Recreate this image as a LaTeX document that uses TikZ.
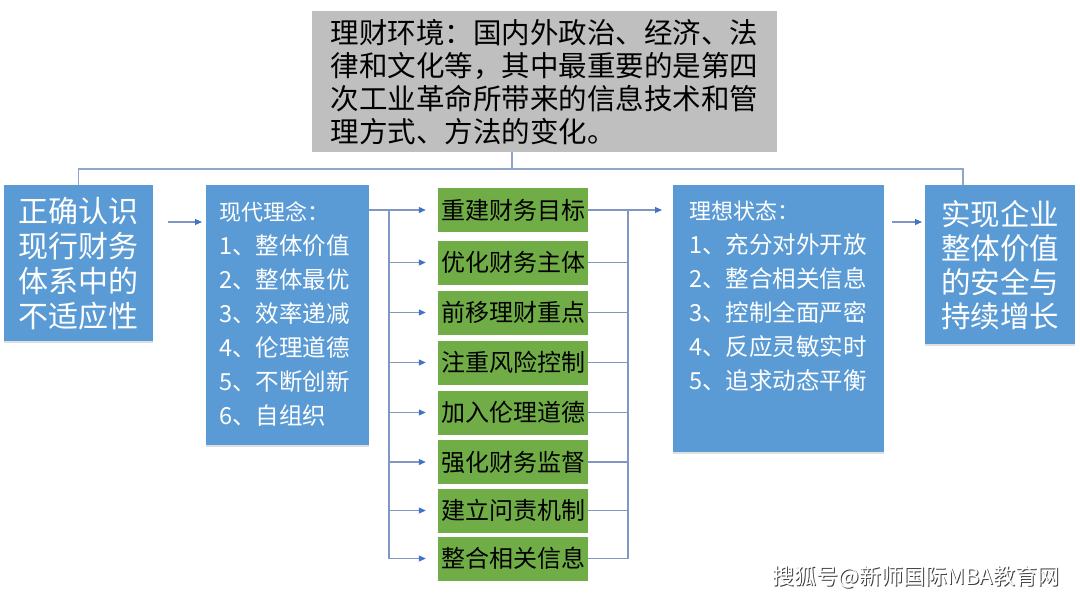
\documentclass[tikz,border=0pt]{standalone}
\usepackage{fontspec}
\setmainfont{Noto Sans CJK SC}
\usetikzlibrary{arrows.meta,shadows}
\definecolor{boxblue}{HTML}{5B9BD5}
\definecolor{boxgreen}{HTML}{70AD47}
\definecolor{boxgray}{HTML}{BFBFBF}
\definecolor{linec}{HTML}{8FA7C7}
\definecolor{arrline}{HTML}{7F97C2}
\definecolor{arrc}{HTML}{4472C4}
\begin{document}
\begin{tikzpicture}[x=1pt,y=-1pt,
  bluebox/.style={rectangle, fill=boxblue, inner sep=0pt, anchor=north west,
     drop shadow={shadow xshift=0pt, shadow yshift=-2pt, opacity=0.25}},
  greenbox/.style={rectangle, fill=boxgreen, inner sep=0pt, minimum width=150pt,
     minimum height=44pt, font=\fontsize{24}{24}\selectfont, text=black},
  graybox/.style={rectangle, fill=boxgray, inner sep=0pt, anchor=north west},
  conn/.style={draw=linec, line width=1.2pt},
  arr/.style={draw=arrline, line width=1.1pt, -{Triangle[length=7pt,width=6pt,color=arrc]}},
  wtext/.style={text=white, align=left, inner sep=0pt}
]
\fill[white] (0,0) rectangle (1080,597);
\useasboundingbox (0,0) rectangle (1080,597);

% top box
\node[graybox, minimum width=465pt, minimum height=141pt, align=left,
      font=\fontsize{28.5}{33}\selectfont] (env) at (312,11)
  {理财环境：国内外政治、经济、法\\律和文化等，其中最重要的是第四\\次工业革命所带来的信息技术和管\\理方式、方法的变化。};

% left box
\node[bluebox, minimum width=149pt, minimum height=156pt, wtext,
      font=\fontsize{30}{35}\selectfont] (left) at (4,185)
  {正确认识\\现行财务\\体系中的\\不适应性};

% modern concepts box
\node[bluebox, minimum width=163pt, minimum height=260pt] (mod) at (206,185) {};
\node[wtext, anchor=north west, font=\fontsize{23.5}{34}\selectfont] (modt) at (219,201)
  {{\fontsize{22}{34}\selectfont 现代理念：}\\1、整体价值\\2、整体最优\\3、效率递减\\4、伦理道德\\5、不断创新\\6、自组织};

% ideal state box
\node[bluebox, minimum width=211pt, minimum height=267pt] (ideal) at (673,185) {};
\node[wtext, anchor=north west, font=\fontsize{23.5}{34}\selectfont] (idealt) at (689,201)
  {{\fontsize{22}{34}\selectfont 理想状态：}\\1、充分对外开放\\2、整合相关信息\\3、控制全面严密\\4、反应灵敏实时\\5、追求动态平衡};

% goal box
\node[bluebox, minimum width=150pt, minimum height=159pt, wtext,
      font=\fontsize{29.5}{34}\selectfont] (goal) at (925,185)
  {实现企业\\整体价值\\的安全与\\持续增长};

% green boxes
\node[greenbox] (g1) at (513,210) {重建财务目标};
\node[greenbox] (g2) at (513,262.5) {优化财务主体};
\node[greenbox] (g3) at (513,312.5) {前移理财重点};
\node[greenbox] (g4) at (513,362.5) {注重风险控制};
\node[greenbox] (g5) at (513,412.5) {加入伦理道德};
\node[greenbox] (g6) at (513,462) {强化财务监督};
\node[greenbox] (g7) at (513,510.5) {建立问责机制};
\node[greenbox] (g8) at (513,558.5) {整合相关信息};

% helper coordinates
\coordinate (bus) at (512,169);
\coordinate (rdrop) at (963,185);
\coordinate (ay) at (0,222);
\coordinate (lb) at (389,0);
\coordinate (rb) at (628,0);

% top connector
\draw[conn] (env.south -| bus) -- (bus);
\draw[conn] (left.north |- rdrop) -- (left.north |- bus) -- (rdrop |- bus) -- (rdrop);

% left -> modern
\draw[arr, shorten <=15pt, shorten >=4pt] (left.east |- ay) -- (mod.west |- ay);

% modern -> green 1
\draw[arr, shorten >=12pt] (mod.east |- g1) -- (g1.west);
\draw[conn, draw=arrline, line width=1.1pt] (lb |- g1) -- (lb |- g8);
\foreach \g in {g2,g3,g4,g5,g6,g7,g8}{
  \draw[arr, shorten >=12pt] (lb |- \g) -- (\g.west);
}
% green -> right bus
\foreach \g in {g1,g2,g3,g4,g5,g6,g7,g8}{
  \draw[conn, draw=arrline, line width=1.1pt] (\g.east) -- (rb |- \g);
}
\draw[conn, draw=arrline, line width=1.1pt] (rb |- g1) -- (rb |- g8);
\draw[arr, shorten >=11pt] (rb |- g1) -- (ideal.west |- g1);

% ideal -> goal
\draw[arr, shorten <=8pt, shorten >=3pt] (ideal.east |- ay) -- (goal.west |- ay);

% watermark
\node[text=black!75, inner sep=0pt, font=\fontsize{22}{22}\selectfont] (wms) at (917,578) {搜狐号@新师国际MBA教育网};
\node[text=white, inner sep=0pt, font=\fontsize{22}{22}\selectfont] (wm) at (916,577) {搜狐号@新师国际MBA教育网};
\end{tikzpicture}
\end{document}
